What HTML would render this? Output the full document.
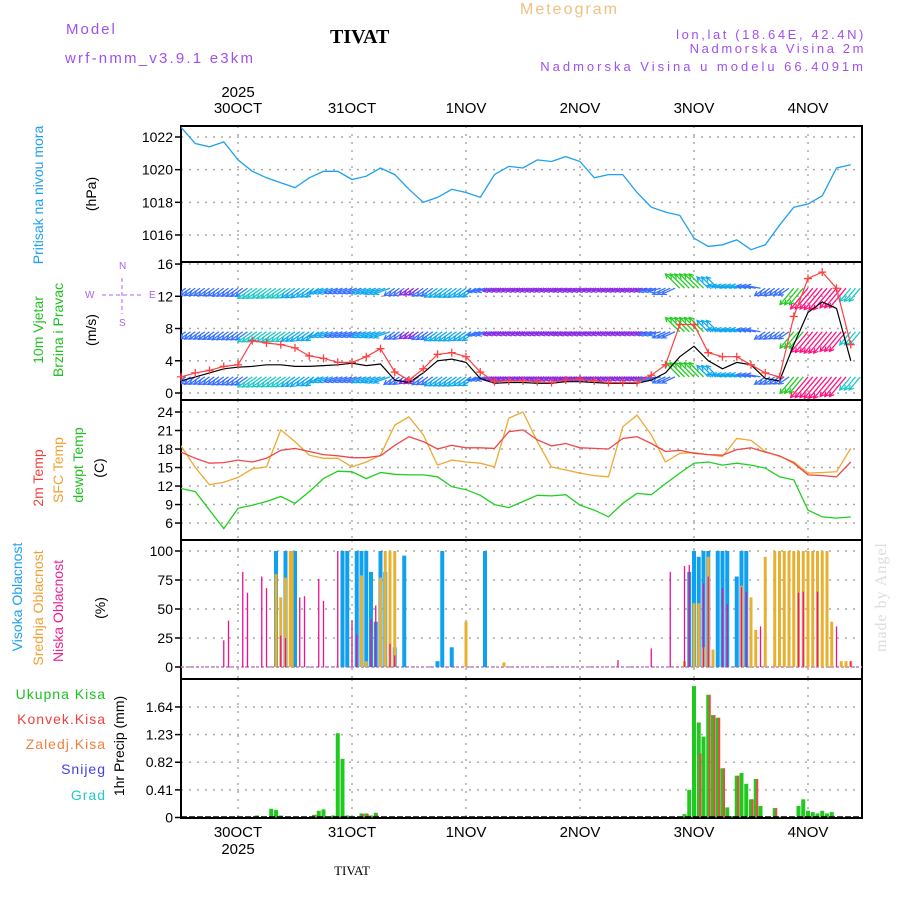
<!DOCTYPE html>
<html><head><meta charset="utf-8"><style>
body{margin:0;background:#fff}
svg{display:block}
text{font-family:"Liberation Sans",sans-serif}
</style></head><body>
<svg id="chart" width="900" height="900" viewBox="0 0 900 900" xmlns="http://www.w3.org/2000/svg">
<g>
<text x="66" y="34" font-size="15" fill="#a050f0" letter-spacing="2">Model</text>
<text x="65" y="63" font-size="15" fill="#a050f0" letter-spacing="2.2">wrf-nmm_v3.9.1 e3km</text>
<text x="330" y="43" font-size="20" font-weight="bold" fill="#000" style="font-family:'Liberation Serif',serif">TIVAT</text>
<text x="520" y="14" font-size="16" fill="#f0c080" letter-spacing="2">Meteogram</text>
<text x="866" y="39" font-size="13" fill="#a050f0" text-anchor="end" letter-spacing="2.6">lon,lat (18.64E, 42.4N)</text>
<text x="866" y="53" font-size="13" fill="#a050f0" text-anchor="end" letter-spacing="2.6">Nadmorska Visina 2m</text>
<text x="866" y="71" font-size="13" fill="#a050f0" text-anchor="end" letter-spacing="3">Nadmorska Visina u modelu 66.4091m</text>
<text x="352" y="875" font-size="13" text-anchor="middle" style="font-family:'Liberation Serif',serif">TIVAT</text>
<text transform="translate(886,652) rotate(-90)" font-size="16" fill="#d8e0d8" style="font-family:'Liberation Serif',serif" letter-spacing="1">made by Angel</text>
</g>
<g font-size="14">
<text transform="translate(43,195) rotate(-90)" text-anchor="middle" fill="#1ea0f0">Pritisak na nivou mora</text>
<text transform="translate(96,194) rotate(-90)" text-anchor="middle">(hPa)</text>
<text transform="translate(43,330) rotate(-90)" text-anchor="middle" fill="#20c020">10m Vjetar</text>
<text transform="translate(63,330) rotate(-90)" text-anchor="middle" fill="#20c020">Brzina i Pravac</text>
<text transform="translate(96,330) rotate(-90)" text-anchor="middle">(m/s)</text>
<text transform="translate(43,478) rotate(-90)" text-anchor="middle" fill="#f04040">2m Temp</text>
<text transform="translate(63,470) rotate(-90)" text-anchor="middle" fill="#f0a030">SFC Temp</text>
<text transform="translate(83,465) rotate(-90)" text-anchor="middle" fill="#20c020">dewpt Temp</text>
<text transform="translate(104,468) rotate(-90)" text-anchor="middle">(C)</text>
<text transform="translate(22,597) rotate(-90)" text-anchor="middle" fill="#1ea0f0">Visoka Oblacnost</text>
<text transform="translate(43,608) rotate(-90)" text-anchor="middle" fill="#f0a030">Srednja Oblacnost</text>
<text transform="translate(63,611) rotate(-90)" text-anchor="middle" fill="#f02090">Niska Oblacnost</text>
<text transform="translate(105,608) rotate(-90)" text-anchor="middle">(%)</text>
<text transform="translate(124,746) rotate(-90)" text-anchor="middle">1hr Precip (mm)</text>
<g font-size="14" text-anchor="end" letter-spacing="1">
<text x="106" y="699" fill="#20c020">Ukupna Kisa</text>
<text x="106" y="724" fill="#f04040">Konvek.Kisa</text>
<text x="106" y="749" fill="#f08040">Zaledj.Kisa</text>
<text x="106" y="774" fill="#4040f0">Snijeg</text>
<text x="106" y="800" fill="#20c8c8">Grad</text>
</g>
</g>
<g fill="#b060f0" font-size="10" stroke="#b060f0">
<text x="119" y="269" stroke="none">N</text>
<text x="119" y="326" stroke="none">S</text>
<text x="85" y="298" stroke="none">W</text>
<text x="149" y="298" stroke="none">E</text>
<line x1="122" y1="278" x2="122" y2="314" stroke-dasharray="4,3"/>
<line x1="102" y1="295" x2="142" y2="295" stroke-dasharray="4,3"/>
</g>
<g id="plots"></g>
</svg>
<script>
// ----- data (time in hours from 29OCT 12:00) -----
const hours3 = [0,3,6,9,12,15,18,21,24,27,30,33,36,39,42,45,48,51,54,57,60,63,66,69,72,75,78,81,84,87,90,93,96,99,102,105,108,111,114,117,120,123,126,129,132,135,138,141];
const pressure = [1022.6,1021.6,1021.4,1021.7,1020.6,1019.9,1019.5,1019.2,1018.9,1019.5,1019.9,1019.9,1019.4,1019.6,1020.1,1019.7,1018.8,1018.0,1018.3,1018.8,1018.6,1018.3,1019.7,1020.2,1020.1,1020.6,1020.5,1020.8,1020.5,1019.5,1019.7,1019.7,1018.6,1017.7,1017.4,1017.2,1015.8,1015.3,1015.4,1015.7,1015.1,1015.4,1016.6,1017.7,1017.9,1018.4,1020.1,1020.3];
const windSpeed = [1.5,2,2.5,3,3.2,3.3,3.5,3.5,3.3,3.3,3.4,3.5,3.7,3.4,3.6,1.6,1.3,2.5,4,4.2,3.8,1.8,1.2,1.3,1.3,1.2,1.2,1.4,1.4,1.3,1.2,1.2,1.2,1.6,2.5,4.5,5.8,4,3,3.8,3.5,1.8,1.5,6,10,11.3,10.5,4];
const windGust = [2,2.5,2.8,3.3,3.5,6.5,6.2,6,5.6,4.6,4.3,3.8,3.8,4.5,5.5,2.6,1.6,3,4.8,5,4.5,2.6,1.4,1.5,1.5,1.4,1.3,1.6,1.7,1.5,1.3,1.3,1.3,2.2,3.5,8.5,8.5,5,4.5,4.5,3.5,2.5,2,9.5,14.2,15,13,6];
const windDir = [55,55,55,55,55,55,55,55,55,55,70,70,70,70,70,55,55,55,55,55,55,75,75,75,75,75,75,75,75,75,75,75,75,75,65,135,135,135,100,100,100,55,55,40,40,40,40,40];
const temp2m = [17.5,16.5,15.7,15.8,16.2,15.9,16.5,17.8,18.1,17.6,17.1,16.9,16.6,16.6,16.9,18.6,20.0,19.2,18.0,18.6,18.2,18.2,18.1,20.8,21.1,19.5,18.5,18.9,18.2,18.1,18.0,19.7,20.0,18.9,17.6,17.8,17.3,17.1,17.0,17.9,18.2,17.5,16.9,15.7,13.8,13.7,13.5,15.9];
const tempSfc = [18.5,15,12.2,12.6,13.4,14.8,15.1,21.1,19.2,17,16.5,16.5,15.1,15.9,17,21.9,23.2,20.3,15.4,16.2,15.9,15.7,15.1,23,24,19.2,15.1,14.6,14.1,13.7,13.5,21.6,23.5,20.3,15.9,17.3,17.4,17.1,16.8,19.7,19.4,17.6,16.8,15.9,14.1,14.2,14.3,18.1];
const dewpoint = [11.6,11.1,8.1,5.1,8.4,8.9,9.5,10.3,9.2,11.1,13.2,14.4,14.3,13.2,14.2,13.9,13.8,13.8,13.5,11.9,11.4,10.5,9,8.5,9.5,10.5,10.4,10.6,8.9,8.1,7,9.2,10.8,10.6,12.4,14.1,15.7,15.9,15.4,15.7,15.4,14.9,13.5,13,8.1,7,6.8,7];
const cloudHighHours = [20,22,24,34,35,37,38,39,40,41,42,43,45,47,54,55,57,64,107,108,109,110,111,113,114,115,117,118,119];
const cloudHighVals = [100,100,100,100,100,100,100,100,82,39,100,82,17,96,5,100,17,100,82,100,95,100,100,100,100,100,78,100,100];
const cloudMidHours = [20,21,22,23,23.4,38,39,42,43,44,45,60,68,106,108,109,110,111,112,118,120,121,123,125,126,127,128,129,130,131,132,133,134,135,136,137,139,140,141];
const cloudMidVals = [80,60,77,100,100,79,5,77,100,100,100,39,4,5,55,55,17,95,15,70,60,32,95,100,100,100,100,100,100,100,100,100,100,100,100,39,5,5,5];
const cloudLowHours = [9,10,13,14,17,18,21,22,25,26,29,30,33,36,37,40,41,44,45,92,99,103,106,107,110,111,114,115,118,119,122,130,131,134,138,141];
const cloudLowVals = [23,40,82,64,78,68,27,25,60,61,76,57,100,40,28,41,53,20,10,6,16,82,87,88,72,78,68,54,69,65,35,64,65,65,35,5];
const rainHours = [16,19,20,21,28,29,30,32,33,34,35,38,39,40,41,106,107,108,109,110,111,112,113,114,115,116,117,118,119,120,121,122,125,126,130,131,132,133,134,135,136,137,140];
const rainTotal = [0.03,0.13,0.11,0.03,0.04,0.1,0.12,0.03,1.25,0.87,0.03,0.06,0.06,0.03,0.07,0.05,0.41,1.95,1.41,1.2,1.82,1.52,1.48,0.73,0.15,0.02,0.62,0.66,0.5,0.27,0.57,0.17,0.14,0.01,0.17,0.27,0.1,0.08,0.06,0.1,0.06,0.08,0.01];
const rainConv = [0,0,0,0,0.04,0,0,0,0.02,0,0,0.05,0.05,0,0.04,0,0,0,0.95,0,1.82,1.52,1.48,0.73,0,0,0.62,0,0,0.27,0.57,0,0.14,0.01,0,0.02,0.02,0.02,0,0.02,0,0,0];
const dayLabels = ["30OCT","31OCT","1NOV","2NOV","3NOV","4NOV"];
const dayHours = [12,36,60,84,108,132];
const pressureTicks = [1016,1018,1020,1022];
const windTicks = [0,4,8,12,16];
const tempTicks = [6,9,12,15,18,21,24];
const cloudTicks = [0,25,50,75,100];
const precipTicks = [0,0.41,0.82,1.23,1.64];

// ----- layout -----
const X0 = 181, X1 = 862, PXH = 4.75;
const xs = h => X0 + h * PXH;
const panels = {
  p: {top:126, bot:262, y:v => 137 + (1022 - v) * 16.33},
  w: {top:262, bot:400, y:v => 393 - v * 8.06},
  t: {top:400, bot:540, y:v => 412 + (24 - v) * 6.17},
  c: {top:540, bot:679, y:v => 667 - v * 1.16},
  r: {top:679, bot:818, y:v => 817.5 - v * 67.4}
};
const NS = "http://www.w3.org/2000/svg";
const root = document.getElementById('plots');
function mk(tag, attrs, parent) {
  const e = document.createElementNS(NS, tag);
  for (const k in attrs) e.setAttribute(k, attrs[k]);
  (parent || root).appendChild(e);
  return e;
}
const clip = mk('clipPath', {id:'clipArea'});
mk('rect', {x:X0, y:126, width:X1 - X0, height:692}, clip);

function frame(key, ticks, fmt, name) {
  const P = panels[key];
  const g = mk('g', {});
  
  
  ticks.forEach(t => {
    const y = P.y(t);
    const gl = mk('line', {x1:X0, x2:X1, y1:y, y2:y, stroke:'#aaa', 'stroke-dasharray':'2,6', 'stroke-width':1.5}, g);
    
    
    mk('line', {x1:X0 - 6, x2:X0, y1:y, y2:y, stroke:'#000', 'stroke-width':1.5}, g);
    const tx = mk('text', {x:X0 - 8, y:y + 5, 'font-size':14, 'text-anchor':'end'}, g);
    tx.textContent = fmt(t);
    
    
  });
  dayHours.forEach(h => {
    mk('line', {x1:xs(h), x2:xs(h), y1:P.top, y2:P.bot, stroke:'#aaa', 'stroke-dasharray':'2,6', 'stroke-width':1.5}, g);
  });
  const r = mk('rect', {x:X0, y:P.top, width:X1 - X0, height:P.bot - P.top, fill:'none', stroke:'#000', 'stroke-width':2}, g);
  
  
}
frame('p', pressureTicks, String, 'pressure');
frame('w', windTicks, String, 'wind');
frame('t', tempTicks, String, 'temp');
frame('c', cloudTicks, String, 'cloud');
frame('r', precipTicks, String, 'precip');

dayLabels.forEach((d, i) => {
  const x = xs(dayHours[i]);
  const a = mk('text', {x:x, y:113, 'font-size':15, 'text-anchor':'middle'});
  a.textContent = d;
  
  
  const b = mk('text', {x:x, y:837, 'font-size':15, 'text-anchor':'middle'});
  b.textContent = d;
  
  
});
const y1 = mk('text', {x:xs(12), y:97, 'font-size':15, 'text-anchor':'middle'}); y1.textContent = '2025';


const y2 = mk('text', {x:xs(12), y:854, 'font-size':15, 'text-anchor':'middle'}); y2.textContent = '2025';



function line(vals, key, color, name, w) {
  const P = panels[key];
  const d = vals.map((v, i) => (i ? 'L' : 'M') + xs(hours3[i]).toFixed(1) + ',' + P.y(v).toFixed(1)).join('');
  const p = mk('path', {d:d, fill:'none', stroke:color, 'stroke-width':w || 1.3, 'clip-path':'url(#clipArea)'});
  
  
  return p;
}
line(pressure, 'p', '#1ea0f0', 'pressure-line');

function windColor(s) {
  if (s < 2) return '#8a2be2';
  if (s < 4) return '#3870ff';
  if (s < 6) return '#10a8f0';
  if (s < 8) return '#20c8c8';
  if (s < 10) return '#22cc22';
  if (s < 12) return '#f0c020';
  return '#ff1080';
}
const wg = mk('g', {'clip-path':'url(#clipArea)'});


[13, 7.6, 2].forEach(level => {
  hours3.forEach((h, i) => {
    const x = xs(h), y = panels.w.y(level);
    const rad = windDir[i] * Math.PI / 180;
    const L = 10 + windGust[i] * 1.2;
    const dx = -Math.sin(rad), dy = Math.cos(rad);
    const col = windColor(windGust[i]);
    for (let k = 0; k < 3; k++) {
      const ox = x + k * PXH, ex = ox + dx * L, ey = y + dy * L;
      mk('line', {x1:ox, y1:y, x2:ex, y2:ey, stroke:col, 'stroke-width':1.3}, wg);
      const a1 = rad + 0.5, a2 = rad - 0.5;
      mk('path', {d:`M${ex + Math.sin(a1) * 5},${ey - Math.cos(a1) * 5}L${ex},${ey}L${ex + Math.sin(a2) * 5},${ey - Math.cos(a2) * 5}`, fill:'none', stroke:col, 'stroke-width':1.2}, wg);
    }
  });
});
line(windSpeed, 'w', '#000', 'wind-speed-line', 1.2);
line(windGust, 'w', '#ff4040', 'wind-gust-line', 1.2);
const gg = mk('g', {});


windGust.forEach((v, i) => {
  const x = xs(hours3[i]), y = panels.w.y(v);
  mk('path', {d:`M${x - 4},${y}H${x + 4}M${x},${y - 4}V${y + 4}`, stroke:'#ff4040', 'stroke-width':1.3}, gg);
});

line(tempSfc, 't', '#f0a830', 'sfc-temp-line');
line(temp2m, 't', '#f04848', 'temp-2m-line');
line(dewpoint, 't', '#20d020', 'dewpoint-line');

function bars(hrs, vals, key, color, w, name, off) {
  const P = panels[key];
  const g = mk('g', {});
  
  
  hrs.forEach((h, i) => {
    const y = P.y(vals[i]);
    const r = mk('rect', {x:xs(h) - w / 2 + (off || 0), y:y, width:w, height:Math.max(0, P.y(0) - y), fill:color}, g);
    
    
  });
}
mk('line', {x1:X0, x2:X1, y1:panels.c.y(0), y2:panels.c.y(0), stroke:'#c080c0', 'stroke-width':1.5, 'stroke-dasharray':'3,2'});
bars(cloudHighHours, cloudHighVals, 'c', '#10a0f0', 4, 'cloud-high');
bars(cloudMidHours, cloudMidVals, 'c', '#e8b030', 3, 'cloud-mid');
bars(cloudLowHours, cloudLowVals, 'c', '#f01090', 1.3, 'cloud-low');
bars(rainHours, rainTotal, 'r', '#20c820', 4, 'precip-total');
bars(rainHours, rainConv, 'r', '#f04848', 2, 'precip-conv', 1.5);
mk('line', {x1:X0, x2:X1, y1:panels.r.y(0), y2:panels.r.y(0), stroke:'#000', 'stroke-width':2.5, 'stroke-dasharray':'6,2'});
</script>
</body></html>
